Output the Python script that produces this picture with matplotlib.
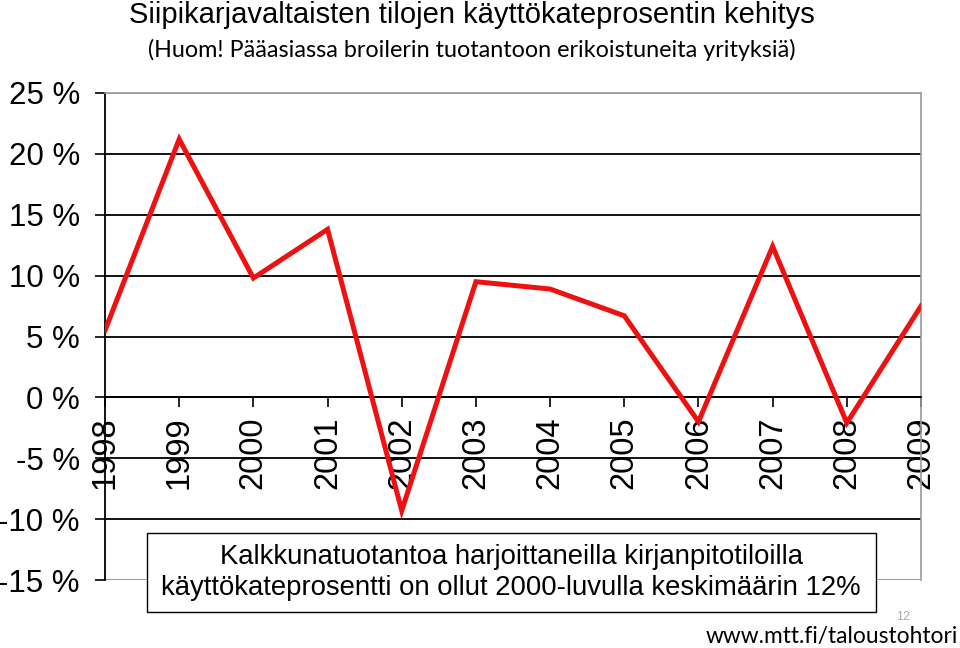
import matplotlib.pyplot as plt
from matplotlib.patches import Rectangle

years = ["1998", "1999", "2000", "2001", "2002", "2003",
         "2004", "2005", "2006", "2007", "2008", "2009"]
kate_pct = [5.5, 21.2, 9.8, 13.8, -9.3, 9.5, 8.9, 6.7, -2.0, 12.4, -2.1, 7.5]
y_ticks = [-15, -10, -5, 0, 5, 10, 15, 20, 25]

title = "Siipikarjavaltaisten tilojen käyttökateprosentin kehitys"
subtitle = "(Huom! Pääasiassa broilerin tuotantoon erikoistuneita yrityksiä)"
note_lines = ["Kalkkunatuotantoa harjoittaneilla kirjanpitotiloilla",
              "käyttökateprosentti on ollut 2000-luvulla keskimäärin 12%"]
footer = "www.mtt.fi/taloustohtori"
page_no = "12"

plt.rcParams["font.family"] = ["Liberation Sans", "DejaVu Sans"]

fig = plt.figure(figsize=(9.6, 6.48), dpi=100)
ax = fig.add_axes([105 / 960, 1 - 580 / 648, 816 / 960, 487 / 648])

x = list(range(len(years)))
ax.plot(x, kate_pct, color="#ee1111", linewidth=3.6, solid_joinstyle="miter", zorder=3)

ax.set_xlim(0, len(years) - 1)
ax.set_ylim(y_ticks[0], y_ticks[-1])

# y axis
ax.set_yticks(y_ticks)
ax.set_yticklabels([f"{v} %" for v in y_ticks], fontsize=22.5)
ax.tick_params(axis="y", direction="out", length=7, width=1.2, pad=11)
ax.yaxis.grid(True, color="black", linewidth=1.3)
for v, gl in zip(y_ticks, ax.get_ygridlines()):
    if v in (y_ticks[0], y_ticks[-1]):
        gl.set_color("#999999")
        gl.set_linewidth(1.2)

# x axis through zero
ax.spines["bottom"].set_position(("data", 0))
ax.spines["bottom"].set_linewidth(1.3)
ax.set_xticks(x)
ax.set_xticklabels(years, rotation=90, fontsize=23.5, va="top")
ax.tick_params(axis="x", direction="out", length=7, width=1.2, pad=7)

ax.spines["left"].set_linewidth(1.3)
for side in ("top", "right"):
    ax.spines[side].set_color("#999999")
    ax.spines[side].set_linewidth(1.2)
ax.axhline(y_ticks[0], color="#999999", linewidth=1.2, zorder=0)

fig.text(472 / 960, 1 - 15 / 648, title, ha="center", va="center", fontsize=21)
fig.text(472 / 960, 1 - 50 / 648, subtitle, ha="center", va="center",
         fontsize=16.8, family=["Lato", "DejaVu Sans"])

box = Rectangle((147 / 960, 1 - 612 / 648), 729 / 960, 79 / 648,
                transform=fig.transFigure, facecolor="white",
                edgecolor="black", linewidth=1.0, zorder=5)
fig.add_artist(box)
fig.text(511 / 960, 1 - 557 / 648, note_lines[0], ha="center", va="center",
         fontsize=19.8, zorder=6)
fig.text(511 / 960, 1 - 588 / 648, note_lines[1], ha="center", va="center",
         fontsize=19.8, zorder=6)

fig.text(958 / 960, 1 - 636 / 648, footer, ha="right", va="center",
         fontsize=16.4, family=["Lato", "DejaVu Sans"])
fig.text(903 / 960, 1 - 617 / 648, page_no, ha="center", va="center",
         fontsize=9, color="#aaaaaa", zorder=7)

fig.savefig("out.png", dpi=100)
